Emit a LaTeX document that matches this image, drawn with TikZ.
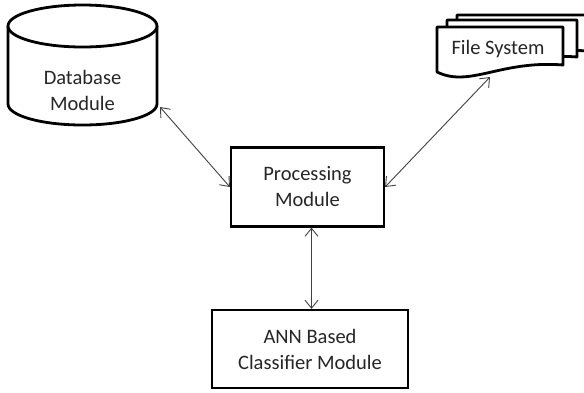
\documentclass[tikz,border=0pt]{standalone}
\usepackage{fontspec}
\setmainfont{Carlito}
\usetikzlibrary{arrows.meta}
\begin{document}
\begin{tikzpicture}[x=1pt,y=-1pt,
  lbl/.style={align=center,font=\fontsize{20.5}{26}\selectfont,text=black!85},
  box/.style={draw,line width=2.2pt,fill=white},
  heavy/.style={draw,line width=2.8pt,fill=white,line join=round},
  link/.style={draw=black!75,line width=0.9pt,{Straight Barb[length=8pt,width=13pt]}-{Straight Barb[length=8pt,width=13pt]}}]
\useasboundingbox (0,0) rectangle (584,392);
% database cylinder
\path[heavy] (8,26) -- (8,104)
  .. controls (8,115.6) and (41.4,125) .. (82.5,125)
  .. controls (123.6,125) and (157,115.6) .. (157,104) -- (157,26);
\path[heavy] (82.5,26) ellipse [x radius=74.5, y radius=21];
\node[lbl] (db) at (82.5,90) {Database\\Module};
\coordinate (dbport) at (160,107);
% file system (stack of documents)
\path[heavy] (457,15) -- (587,15) -- (587,51)
  .. controls (524,46) and (494,74) .. (457,60) -- cycle;
\path[heavy] (447,20) -- (577,20) -- (577,57)
  .. controls (514,52) and (484,80) .. (447,66) -- cycle;
\path[heavy] (437,27) -- (563,27) -- (563,65)
  .. controls (500,60) and (470,88) .. (437,72) -- cycle;
\node[lbl] (fs) at (498,49) {File System};
\coordinate (fsport) at (490,77);
% processing
\node[box,lbl,minimum width=153pt,minimum height=79pt] (proc) at (307.5,187) {Processing\\Module};
% classifier
\node[box,lbl,minimum width=196pt,minimum height=78pt] (ann) at (310,349) {ANN Based\\Classifier Module};
% connectors
\draw[link] (dbport) -- (proc.west);
\draw[link] (fsport) -- (proc.east);
\draw[link] ([xshift=4pt]proc.south) -- ([xshift=4pt]proc.south |- ann.north);
\end{tikzpicture}
\end{document}
